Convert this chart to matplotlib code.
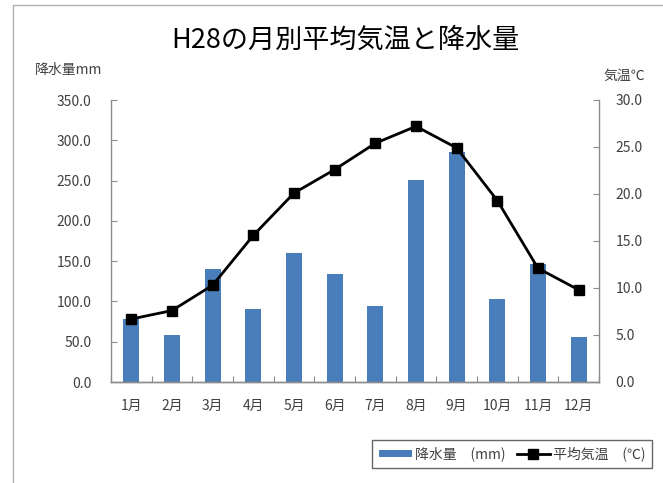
import matplotlib
matplotlib.use("Agg")
import matplotlib.pyplot as plt
from matplotlib.patches import Rectangle, Patch
from matplotlib.lines import Line2D
import numpy as np

plt.rcParams['font.family'] = ['Noto Sans CJK JP', 'DejaVu Sans']

# データ
months = ['1月', '2月', '3月', '4月', '5月', '6月', '7月', '8月', '9月', '10月', '11月', '12月']
rain = [78, 58, 140, 91, 160, 134, 94, 251, 286, 103, 146, 56]
temp = [6.7, 7.6, 10.3, 15.6, 20.1, 22.6, 25.4, 27.2, 24.9, 19.3, 12.1, 9.8]
rain_ticks = [0, 50, 100, 150, 200, 250, 300, 350]
temp_ticks = [0, 5, 10, 15, 20, 25, 30]

txt = '#404040'
grid_gray = '#8c8c8c'

fig = plt.figure(figsize=(6.63, 4.83), dpi=100)
ax = fig.add_axes([111 / 663, 1 - 382 / 483, 488 / 663, 282 / 483])
ax2 = ax.twinx()

x = np.arange(len(months))
ax.bar(x, rain, width=0.4, color='#4a7ebb', zorder=2)
ax2.plot(x, temp, color='black', lw=2, marker='s', markersize=6.5, zorder=3)

ax.set_xlim(-0.5, len(months) - 0.5)
ax.set_ylim(0, 350)
ax2.set_ylim(0, 30)
ax.set_yticks(rain_ticks)
ax.set_yticklabels([f'{v:.1f}' for v in rain_ticks])
ax2.set_yticks(temp_ticks)
ax2.set_yticklabels([f'{v:.1f}' for v in temp_ticks])

# 区切りの目盛と月ラベル
ax.set_xticks(np.arange(-0.5, len(months), 1.0))
ax.set_xticklabels([])
ax.set_xticks(x, minor=True)
ax.set_xticklabels(months, minor=True)
ax.tick_params(axis='x', which='major', direction='in', length=4, color=grid_gray)
ax.tick_params(axis='x', which='minor', length=0, pad=12, labelsize=10, labelcolor=txt)
ax.tick_params(axis='y', direction='in', length=4, color=grid_gray, pad=14,
               labelsize=10, labelcolor=txt)
ax2.tick_params(axis='y', direction='in', length=4, color=grid_gray, pad=12,
                labelsize=10, labelcolor=txt)

for a in (ax, ax2):
    for s in a.spines.values():
        s.set_visible(False)
    for s in ('left', 'right', 'bottom'):
        a.spines[s].set_visible(True)
        a.spines[s].set_color(grid_gray)
        a.spines[s].set_linewidth(1)
ax.spines['right'].set_visible(False)
ax2.spines['left'].set_visible(False)

fig.text(345 / 663, 1 - 40 / 483, 'H28の月別平均気温と降水量', ha='center', va='center',
         fontsize=19.5, color='black')
fig.text(35 / 663, 1 - 70 / 483, '降水量mm', ha='left', va='center', fontsize=10, color=txt)
fig.text(603 / 663, 1 - 76 / 483, '気温℃', ha='left', va='center', fontsize=10, color=txt)

# 外枠
fig.patches.append(Rectangle((13 / 663, -0.1), 1.2, 1.1 - 5 / 483, transform=fig.transFigure,
                             fill=False, edgecolor='#b0b0b0', lw=1))

handles = [Patch(facecolor='#4a7ebb', edgecolor='none'),
           Line2D([], [], color='black', lw=2, marker='s', markersize=6.5)]
leg = fig.legend(handles, ['降水量　(mm)', '平均気温　(℃)'], loc='center',
                 bbox_to_anchor=(512 / 663, 1 - 454 / 483), ncol=2, fontsize=10,
                 frameon=True, fancybox=False, edgecolor='#404040', handlelength=2.4,
                 handleheight=0.5, handletextpad=0.2, columnspacing=0.8, borderpad=0.5)
leg.get_frame().set_linewidth(1)
for t in leg.get_texts():
    t.set_color(txt)

fig.savefig('out.png', dpi=100)
